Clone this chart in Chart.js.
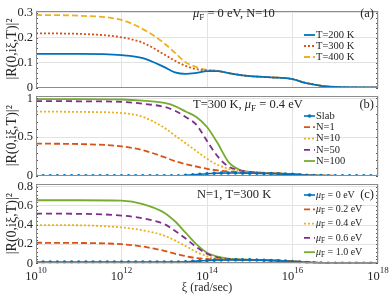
<!DOCTYPE html>
<html>
<head>
<meta charset="utf-8">
<script src="https://cdn.jsdelivr.net/npm/chart.js@4.4.1/dist/chart.umd.min.js"></script>
<style>
  body { margin: 0; background: #fff; }
  #wrap { position: relative; width: 390px; height: 295px; }
  #wrap canvas { position: absolute; left: 0; top: 0; }
</style>
</head>
<body>
<div id="wrap">
  <canvas id="pa" width="390" height="295"></canvas>
  <canvas id="pb" width="390" height="295"></canvas>
  <canvas id="pc" width="390" height="295"></canvas>
</div>
<script>
// log10 of xi (rad/sec) for the smooth curves
const curveExp = [10, 11, 12, 12.5, 13, 13.25, 13.5, 13.75, 14, 14.25, 14.5, 14.75, 15, 15.5, 16, 16.25, 16.5, 16.75, 17, 18]
// log10 of xi for the marked (slab / muF=0) curves
const markExp = [10, 10.167, 10.333, 10.5, 10.667, 10.833, 11, 11.167, 11.333, 11.5, 11.667, 11.833,
  12, 12.167, 12.333, 12.5, 12.667, 12.833, 13, 13.167, 13.333, 13.5, 13.667, 13.833,
  14, 14.167, 14.333, 14.5, 14.667, 14.833, 15, 15.167, 15.333, 15.5, 15.667, 15.833,
  16, 16.167, 16.333, 16.5, 16.667, 16.833, 17, 17.167, 17.333, 17.5, 17.667, 17.833, 18]

const xTickExp = [10, 12, 14, 16, 18]
const yTicksA = [0, 0.1, 0.2, 0.3]
const yTicksB = [0, 0.5, 1]
const yTicksC = [0, 0.2, 0.4, 0.6, 0.8]

// (a) muF = 0 eV, N = 10
const t200 = [0.135, 0.135, 0.13, 0.118, 0.082, 0.061, 0.055, 0.059, 0.066, 0.066, 0.058, 0.051, 0.046, 0.041, 0.034, 0.021, 0.012, 0.005, 0.002, 0]
const t300 = [0.218, 0.216, 0.202, 0.18, 0.133, 0.108, 0.087, 0.074, 0.069, 0.067, 0.058, 0.051, 0.046, 0.041, 0.034, 0.021, 0.012, 0.005, 0.002, 0]
const t400 = [0.292, 0.289, 0.272, 0.235, 0.178, 0.14, 0.102, 0.082, 0.071, 0.067, 0.058, 0.051, 0.046, 0.041, 0.034, 0.021, 0.012, 0.005, 0.002, 0]

// (b) T = 300 K, muF = 0.4 eV
const slab = [0, 0, 0, 0, 0, 0, 0, 0, 0, 0, 0, 0,
  0, 0, 0, 0, 0, 0, 0, 0, 0, 0.005, 0.012, 0.02,
  0.027, 0.032, 0.035, 0.036, 0.036, 0.035, 0.034, 0.032, 0.03, 0.028, 0.025, 0.022,
  0.018, 0.013, 0.008, 0.004, 0.002, 0, 0, 0, 0, 0, 0, 0, 0]
const n1 = [0.415, 0.41, 0.38, 0.33, 0.24, 0.19, 0.15, 0.12, 0.09, 0.07, 0.055, 0.045, 0.04, 0.032, 0.02, 0.013, 0.006, 0.002, 0, 0]
const n10 = [0.83, 0.825, 0.81, 0.76, 0.62, 0.52, 0.42, 0.32, 0.22, 0.14, 0.09, 0.06, 0.045, 0.033, 0.02, 0.013, 0.006, 0.002, 0, 0]
const n50 = [0.965, 0.962, 0.955, 0.93, 0.89, 0.84, 0.76, 0.66, 0.45, 0.25, 0.12, 0.07, 0.05, 0.034, 0.02, 0.013, 0.006, 0.002, 0, 0]
const n100 = [0.99, 0.99, 0.985, 0.97, 0.94, 0.9, 0.83, 0.76, 0.63, 0.42, 0.18, 0.08, 0.05, 0.035, 0.02, 0.013, 0.006, 0.002, 0, 0]

// (c) N = 1, T = 300 K
const mu00 = [0.012, 0.012, 0.012, 0.012, 0.012, 0.012, 0.012, 0.012, 0.012, 0.012, 0.012, 0.012,
  0.012, 0.012, 0.012, 0.012, 0.012, 0.012, 0.012, 0.012, 0.013, 0.015, 0.02, 0.025,
  0.03, 0.033, 0.035, 0.036, 0.036, 0.036, 0.036, 0.034, 0.032, 0.03, 0.027, 0.023,
  0.019, 0.014, 0.009, 0.005, 0.002, 0, 0, 0, 0, 0, 0, 0, 0]
const mu02 = [0.215, 0.213, 0.2, 0.175, 0.13, 0.1, 0.075, 0.055, 0.045, 0.04, 0.037, 0.036, 0.035, 0.031, 0.02, 0.014, 0.007, 0.002, 0, 0]
const mu04 = [0.4, 0.398, 0.375, 0.345, 0.29, 0.24, 0.18, 0.12, 0.075, 0.05, 0.04, 0.037, 0.035, 0.031, 0.02, 0.014, 0.007, 0.002, 0, 0]
const mu06 = [0.52, 0.518, 0.5, 0.47, 0.41, 0.34, 0.26, 0.17, 0.1, 0.06, 0.045, 0.039, 0.036, 0.031, 0.02, 0.014, 0.007, 0.002, 0, 0]
const mu10 = [0.66, 0.66, 0.655, 0.62, 0.53, 0.44, 0.32, 0.2, 0.11, 0.07, 0.05, 0.042, 0.037, 0.031, 0.02, 0.014, 0.007, 0.002, 0, 0]

const BLUE = '#0072BD', RED = '#D95319', YEL = '#EDB120', PUR = '#7E2F8E', GRN = '#77AC30'
const TXT = '#262626'
const FONT = '"Liberation Serif", "Times New Roman", serif'
const gridColor = '#e3e3e3'

Chart.defaults.font.family = FONT
Chart.defaults.color = TXT

let pts = (exps, vals) => exps.map((e, i) => ({x: Math.pow(10, e), y: vals[i]}))

function line(label, exps, vals, color, dash, marked) {
  return {
    label: label, data: pts(exps, vals),
    borderColor: color, backgroundColor: color,
    borderWidth: marked ? 1.6 : 1.8, borderDash: dash,
    pointRadius: marked ? 1.8 : 0, pointBorderWidth: 0,
    cubicInterpolationMode: 'monotone'
  }
}

// rich text: parts = [[text, style]] with style '' | 'i' (italic) | 's' (subscript) | 'p' (superscript)
function drawRich(ctx, x, y, parts, size, align) {
  let w = 0
  let small = st => st == 's' || st == 'p'
  let fontOf = st => (st == 'i' ? 'italic ' : '') + (small(st) ? size * 0.72 : size) + 'px ' + FONT
  parts.forEach(p => { ctx.font = fontOf(p[1]); w += ctx.measureText(p[0]).width })
  if (align == 'right') x -= w
  if (align == 'center') x -= w / 2
  ctx.textBaseline = 'middle'
  ctx.textAlign = 'left'
  parts.forEach(p => {
    ctx.font = fontOf(p[1])
    let dy = p[1] == 's' ? size * 0.3 : p[1] == 'p' ? -size * 0.45 : 0
    ctx.fillText(p[0], x, y + dy)
    x += ctx.measureText(p[0]).width
  })
}

const decor = {
  id: 'decor',
  afterDraw(chart, args, o) {
    const {ctx, chartArea: a} = chart
    const ys = chart.scales.y, xs = chart.scales.x
    ctx.save()
    // minor ticks on both vertical edges
    ctx.strokeStyle = '#555'
    ctx.lineWidth = 1
    for (let v = 0; v <= ys.max + 1e-9; v += o.minor) {
      const py = Math.round(ys.getPixelForValue(v)) + 0.5
      ctx.beginPath()
      ctx.moveTo(a.left, py); ctx.lineTo(a.left + 2, py)
      ctx.moveTo(a.right, py); ctx.lineTo(a.right - 2, py)
      ctx.stroke()
    }
    // frame
    ctx.strokeStyle = '#8c8c8c'
    ctx.strokeRect(Math.round(a.left) + 0.5, Math.round(a.top) + 0.5, Math.round(a.width) - 1, Math.round(a.height) - 1)
    ctx.fillStyle = TXT
    // power-of-ten tick labels along the x axis
    if (o.showX) {
      xs.ticks.forEach(t => {
        const e = Math.round(Math.log10(t.value))
        drawRich(ctx, xs.getPixelForValue(t.value), a.bottom + 13, [['10', ''], [String(e), 'p']], 12.5, 'center')
      })
    }
    // annotation and panel tag
    drawRich(ctx, o.noteX, o.noteY, o.note, 12.5)
    drawRich(ctx, 374, o.noteY, [[o.tag, '']], 12.5, 'right')
    // legend
    chart.data.datasets.forEach((ds, i) => {
      const y = o.rows[i]
      ctx.strokeStyle = ds.borderColor
      ctx.lineWidth = ds.borderWidth
      ctx.setLineDash(ds.borderDash || [])
      ctx.beginPath(); ctx.moveTo(304, y); ctx.lineTo(315, y); ctx.stroke()
      ctx.setLineDash([])
      if (ds.pointRadius > 0) {
        ctx.fillStyle = ds.borderColor
        ctx.beginPath(); ctx.arc(309.5, y, 1.8, 0, Math.PI * 2); ctx.fill()
      }
      ctx.fillStyle = TXT
      drawRich(ctx, 316, y, o.legend[i], o.legendSize)
    })
    ctx.restore()
  }
}

function panel(id, sets, yMax, yTicks, o) {
  return new Chart(document.getElementById(id), {
    type: 'line',
    data: { datasets: sets },
    options: {
      responsive: false, animation: false, devicePixelRatio: 1,
      layout: { padding: { top: o.top, bottom: o.bottom, left: 0, right: 12 } },
      plugins: { legend: {display: false}, tooltip: {enabled: false}, decor: o },
      scales: {
        x: {
          type: 'logarithmic', min: 1e10, max: 1e18,
          afterBuildTicks: s => { s.ticks = xTickExp.map(e => ({value: Math.pow(10, e)})) },
          afterFit: s => { s.height = o.xHeight },
          grid: { color: gridColor, drawTicks: false },
          border: { display: false },
          ticks: { display: false },
          title: { display: o.showX, text: 'ξ (rad/sec)', padding: 0, font: {size: 12} }
        },
        y: {
          min: 0, max: yMax,
          afterBuildTicks: s => { s.ticks = yTicks.map(v => ({value: v})) },
          afterFit: s => { s.width = 36 },
          grid: { color: gridColor, drawTicks: false },
          border: { display: false },
          ticks: { padding: 3, font: {size: 12.5}, callback: v => String(v) },
          title: { display: true, text: '|R(0,iξ,T)|²', padding: {top: 4, bottom: 0}, font: {size: 14} }
        }
      }
    },
    plugins: [decor]
  })
}

panel('pa', [
  line('T=200 K', curveExp, t200, BLUE, [], false),
  line('T=300 K', curveExp, t300, RED, [2, 2], false),
  line('T=400 K', curveExp, t400, YEL, [6, 3], false)
], 0.31, yTicksA, {
  top: 5, bottom: 207.5, xHeight: 0, showX: false, minor: 0.02,
  note: [['μ', 'i'], ['F', 's'], [' = 0 eV, N=10', '']], noteX: 193, noteY: 14, tag: '(a)',
  legend: [[['T=200 K', '']], [['T=300 K', '']], [['T=400 K', '']]],
  legendSize: 10.5, rows: [35, 46, 57]
})

panel('pb', [
  line('Slab', markExp, slab, BLUE, [], true),
  line('N=1', curveExp, n1, RED, [6, 3], false),
  line('N=10', curveExp, n10, YEL, [2, 2], false),
  line('N=50', curveExp, n50, PUR, [6, 4], false),
  line('N=100', curveExp, n100, GRN, [], false)
], 1.034, yTicksB, {
  top: 95.7, bottom: 119.2, xHeight: 0, showX: false, minor: 0.1,
  note: [['T=300 K, ', ''], ['μ', 'i'], ['F', 's'], [' = 0.4 eV', '']], noteX: 193, noteY: 105, tag: '(b)',
  legend: [[['Slab', '']], [['N=1', '']], [['N=10', '']], [['N=50', '']], [['N=100', '']]],
  legendSize: 10.5, rows: [116, 127.2, 138.6, 149.8, 161]
})

panel('pc', [
  line('μF = 0 eV', markExp, mu00, BLUE, [], true),
  line('μF = 0.2 eV', curveExp, mu02, RED, [6, 3], false),
  line('μF = 0.4 eV', curveExp, mu04, YEL, [2, 2], false),
  line('μF = 0.6 eV', curveExp, mu06, PUR, [6, 4], false),
  line('μF = 1.0 eV', curveExp, mu10, GRN, [], false)
], 0.83, yTicksC, {
  top: 184, bottom: 0, xHeight: 31.7, showX: true, minor: 0.04,
  note: [['N=1, T=300 K', '']], noteX: 197, noteY: 195, tag: '(c)',
  legend: ['0', '0.2', '0.4', '0.6', '1.0'].map(s => [['μ', 'i'], ['F', 's'], [' = ' + s + ' eV', '']]),
  legendSize: 10, rows: [195, 209.3, 223.6, 237.9, 252.2]
})
</script>
</body>
</html>
